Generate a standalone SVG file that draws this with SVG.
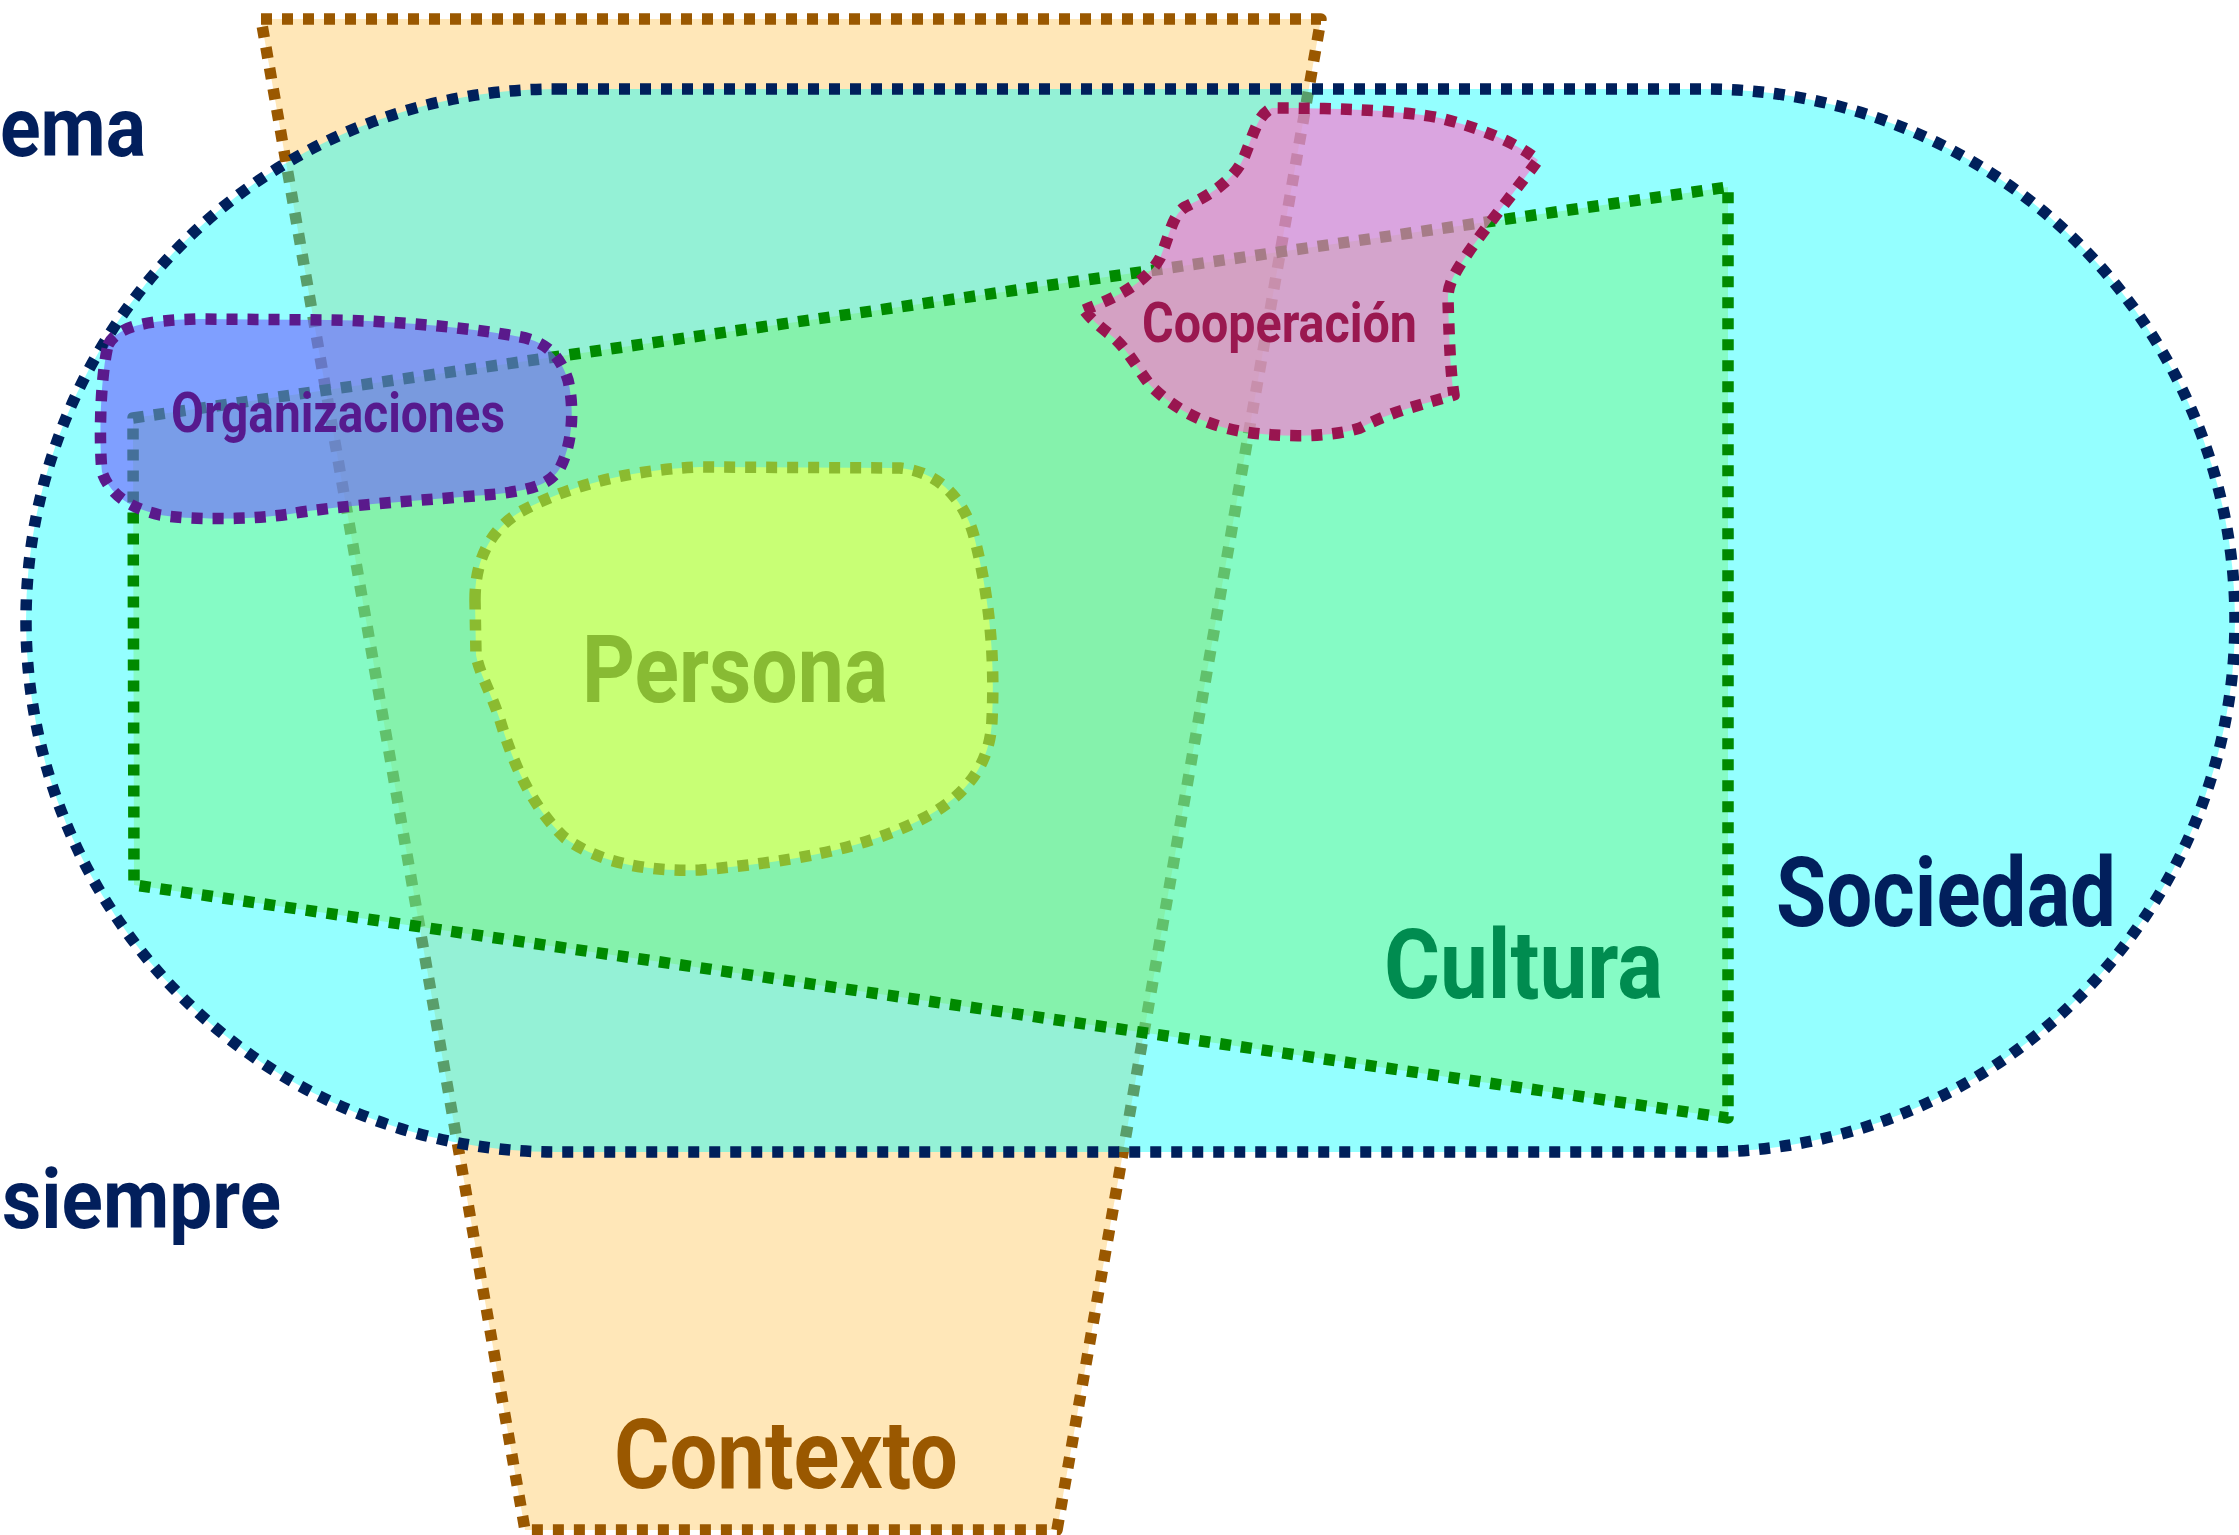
<svg xmlns="http://www.w3.org/2000/svg" width="2239" height="1535" viewBox="0 0 2239 1535">
<style>
.sh{stroke-width:11.5;stroke-dasharray:11 10;stroke-linejoin:round}
.t{font-family:Roboto,"DejaVu Sans",sans-serif;font-weight:700}
.navy{fill:#021F5C}
</style>
<rect width="2239" height="1535" fill="#ffffff"/>
<g id="contexto">
<polygon class="sh" points="261,19 1321,19 1057,1530 525,1530" fill="#FFE7B8" stroke="#9A5800"/>
</g>
<g id="sociedad">
<rect class="sh" x="26" y="89" width="2209" height="1063" rx="530" ry="531.5" fill="#00FFFF" fill-opacity="0.42" stroke="#00205B"/>
</g>
<g id="cultura">
<polygon class="sh" points="133,418 1728,187 1728,1118 134,885" fill="#6EF56E" fill-opacity="0.4" stroke="#008A00"/>
</g>
<g id="persona">
<path class="sh" d="M475,600 C475,560 490,530 520,512 C560,490 620,470 700,467 L900,468 C940,472 965,500 975,540 C990,600 995,660 992,720 C990,770 960,800 920,820 C860,850 790,862 700,870 C640,872 595,860 565,838 C535,810 515,770 500,720 C490,690 480,675 476,655 Z" fill="#C8FF75" stroke="#8BBB30"/>
</g>
<g id="organizaciones">
<path class="sh" d="M108,345 C118,325 150,320 200,319 L330,320 C400,321 470,328 515,336 C545,340 560,355 568,380 C575,410 572,445 560,468 C550,485 530,490 497,494 C430,500 340,505 290,514 C250,520 190,520 160,515 C130,508 110,495 102,472 C99,440 100,380 108,345 Z" fill="#715FFF" fill-opacity="0.6" stroke="#5A1A8C"/>
</g>
<g id="cooperacion">
<path class="sh" d="M1084,310 C1110,300 1145,285 1160,258 C1170,235 1172,215 1185,207 C1210,195 1235,180 1245,155 C1255,130 1258,115 1272,108 C1330,108 1400,110 1440,118 C1480,128 1515,142 1538,160 C1520,185 1495,215 1470,250 C1455,272 1447,285 1448,300 C1449,330 1450,370 1454,395 C1420,405 1390,412 1360,428 C1330,438 1280,437 1245,432 C1200,425 1170,405 1150,385 C1135,365 1125,345 1108,333 C1098,325 1090,318 1084,310 Z" fill="#FF75D0" fill-opacity="0.65" stroke="#991550"/>
</g>
<g id="connectors"></g>
<g id="labels">
<text class="t navy" x="1776" y="926" font-size="97" textLength="340" lengthAdjust="spacingAndGlyphs">Sociedad</text>
<text class="t" x="1384" y="998" font-size="96" fill="#008C50" textLength="279" lengthAdjust="spacingAndGlyphs">Cultura</text>
<text class="t" x="614" y="1488" font-size="97" fill="#9A5800" textLength="344" lengthAdjust="spacingAndGlyphs">Contexto</text>
<text class="t" x="582" y="702" font-size="94" fill="#88BB33" textLength="306" lengthAdjust="spacingAndGlyphs">Persona</text>
<text class="t" x="171" y="432" font-size="55" fill="#561A8E" textLength="334" lengthAdjust="spacingAndGlyphs">Organizaciones</text>
<text class="t" x="1142" y="342" font-size="55" fill="#9A1850" textLength="275" lengthAdjust="spacingAndGlyphs">Cooperación</text>
</g>
<g id="ema"><text class="t navy" x="0" y="156" font-size="84" textLength="146" lengthAdjust="spacingAndGlyphs">ema</text></g>
<g id="siempre"><text class="t navy" x="2" y="1228" font-size="84" textLength="279" lengthAdjust="spacingAndGlyphs">siempre</text></g>
</svg>
